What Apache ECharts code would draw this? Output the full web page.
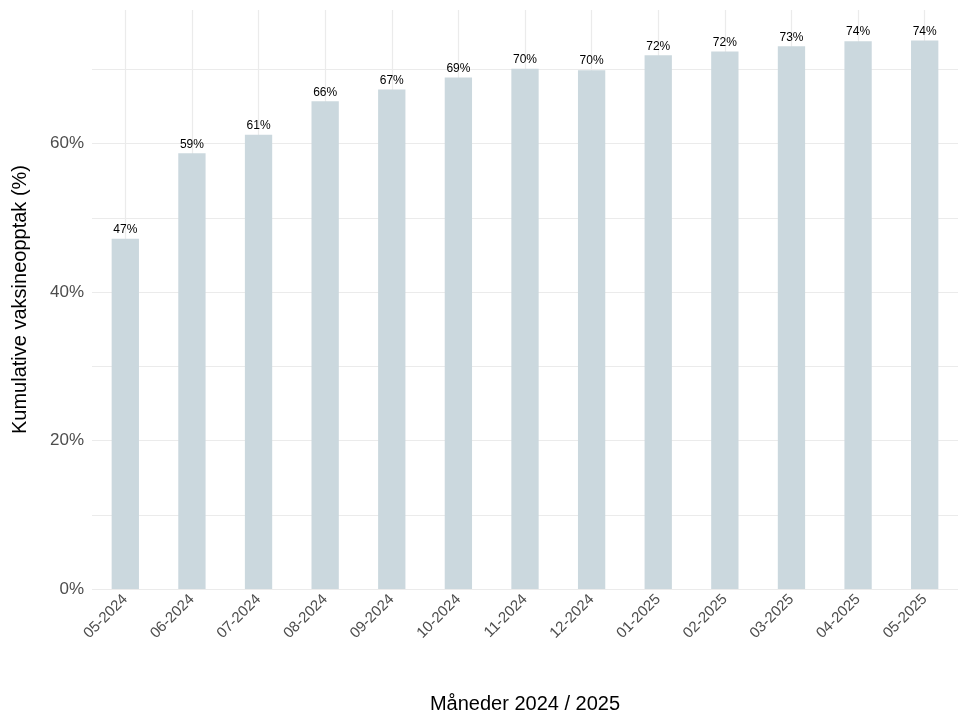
<!DOCTYPE html>
<html><head><meta charset="utf-8">
<script src="https://cdn.jsdelivr.net/npm/echarts@6/dist/echarts.min.js"></script>
<style>html,body{margin:0;padding:0;background:#fff}#c{width:970px;height:728px}</style>
</head><body><div id="c"></div>
<script>
const categories = ["05-2024","06-2024","07-2024","08-2024","09-2024","10-2024","11-2024","12-2024","01-2025","02-2025","03-2025","04-2025","05-2025"];
const values = [47.2,58.7,61.2,65.7,67.3,68.9,70.1,69.9,71.9,72.4,73.1,73.8,73.9];
const labels = ["47%","59%","61%","66%","67%","69%","70%","70%","72%","72%","73%","74%","74%"];
const chart = echarts.init(document.getElementById('c'));
chart.setOption({
  animation:false,
  grid:{left:92,right:12,top:10,bottom:139},
  xAxis:{type:'category',data:categories,
    axisLine:{show:false},axisTick:{show:false},
    axisLabel:{rotate:45,color:'#4d4d4d',fontSize:15,fontFamily:'Liberation Sans, Arial',margin:8},
    splitLine:{show:false},
    name:'Måneder 2024 / 2025',nameLocation:'middle',nameGap:105,
    nameTextStyle:{color:'#000',fontSize:20,fontFamily:'Liberation Sans, Arial'}},
  yAxis:{type:'value',min:0,max:78,interval:10,
    axisLabel:{formatter:v=>v%20===0?v+'%':'',color:'#4d4d4d',fontSize:17,fontFamily:'Liberation Sans, Arial'},
    splitLine:{showMaxLine:false,lineStyle:{color:'#ebebeb',width:1.2}},
    name:'Kumulative vaksineopptak (%)',nameLocation:'middle',nameGap:62,
    nameTextStyle:{color:'#000',fontSize:20,fontFamily:'Liberation Sans, Arial'}},
  series:[{type:'bar',data:values,barWidth:'41%',z:3,
    itemStyle:{color:'#cbd8de'},
    label:{show:true,position:'top',distance:3,color:'#000',fontSize:12,fontFamily:'Liberation Sans, Arial',
      formatter:p=>labels[p.dataIndex]},
    markLine:{silent:true,symbol:'none',z:1,label:{show:false},
      lineStyle:{color:'#ebebeb',width:1.2,type:'solid'},
      data:categories.map(c=>({xAxis:c}))}}]
});
</script></body></html>
